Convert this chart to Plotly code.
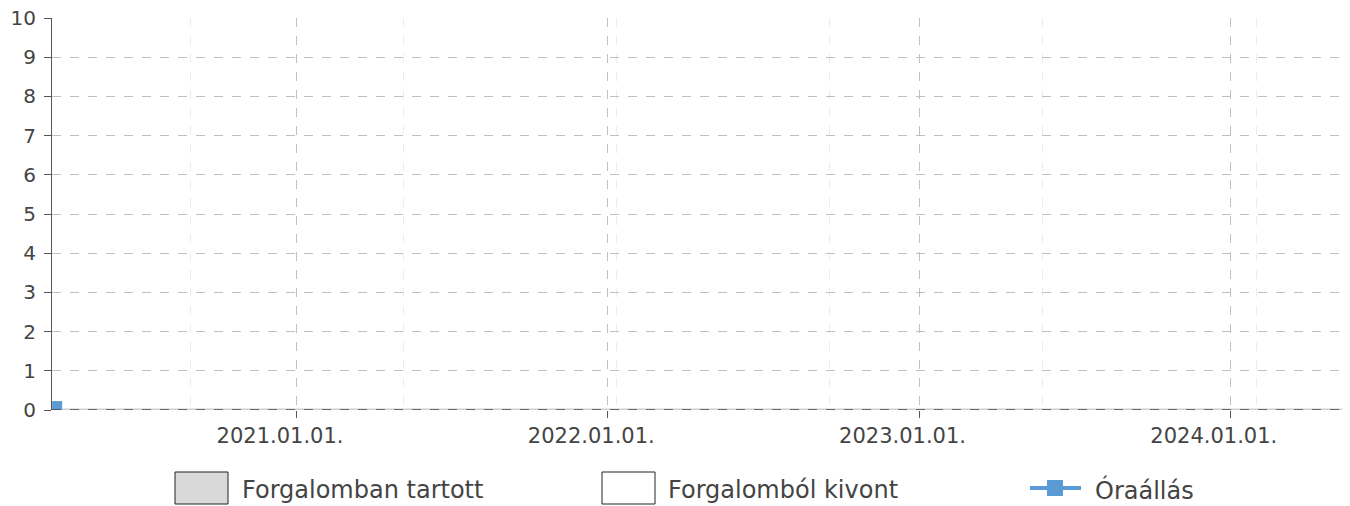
import plotly.graph_objects as go

# ---- data ----
odo_dates = ["2020-03-26"]
odo_values = [0.1]

active_dates = ["2020-03-20", "2024-05-12"]
active_values = [0, 0]

x_tick_vals = ["2021-01-01", "2022-01-01", "2023-01-01", "2024-01-01"]
x_tick_text = ["2021.01.01.", "2022.01.01.", "2023.01.01.", "2024.01.01."]
y_tick_vals = list(range(0, 11))

legend_names = ["Forgalomban tartott", "Forgalomból kivont", "Óraállás"]

# ---- style ----
OFF = 8  # browser default body margin
W, H = 1350 - OFF, 506 - OFF
L, R, T, B = 52 - OFF, 7, 18 - OFF, 96
PW, PH = W - L - R, H - T - B
TXT = "#444444"
BLUE = "#5b9bd5"
FONT = "DejaVu Sans"
MINOR_TICK0 = "2020-08-29"
MINOR_DTICK = 250 * 24 * 3600 * 1000
PAD = "\u00a0" * 5  # shifts x labels left of their tick, as in the reference

def px_x(p):
    # p: page pixel x
    return (p - OFF - L) / PW

def px_y(p):
    # p: page pixel y
    return (H - B - (p - OFF)) / PH

fig = go.Figure()

fig.add_trace(go.Scatter(
    x=active_dates, y=active_values, mode="lines",
    fill="tozeroy", fillcolor="#d9d9d9",
    line=dict(color="#cfcfcf", width=3),
    name=legend_names[0], showlegend=False, hoverinfo="skip",
))

fig.add_trace(go.Scatter(
    x=odo_dates, y=odo_values, mode="lines+markers",
    line=dict(color=BLUE, width=3),
    marker=dict(symbol="square", size=10, color=BLUE),
    name=legend_names[2], showlegend=False, cliponaxis=True,
))

fig.update_xaxes(
    type="date",
    range=[active_dates[0], active_dates[-1]],
    tickmode="array", tickvals=x_tick_vals, ticktext=[t + PAD for t in x_tick_text],
    ticks="outside", ticklen=7, tickcolor="#555555", tickwidth=1,
    showgrid=True, gridcolor="#c0c0c0", griddash="dash", gridwidth=1,
    minor=dict(tick0=MINOR_TICK0, dtick=MINOR_DTICK, showgrid=True,
               gridcolor="#ececec", griddash="dash", gridwidth=1, ticks=""),
    showline=False, zeroline=False,
    tickfont=dict(family=FONT, size=21, color=TXT),
    ticklabeloverflow="allow", automargin=False,
)

fig.update_yaxes(
    range=[0, 10.001], tickmode="array", tickvals=y_tick_vals,
    ticks="outside", ticklen=7, tickcolor="#555555", tickwidth=1,
    showgrid=True, gridcolor="#c0c0c0", griddash="dash", gridwidth=1,
    showline=True, linecolor="#555555", linewidth=1,
    zeroline=False,
    tickfont=dict(family=FONT, size=20, color=TXT),
    ticklabelstandoff=4,
    ticklabeloverflow="allow", automargin=False,
)

shapes = []
# baseline: dark dashes over light gray
shapes.append(dict(type="line", xref="paper", yref="y", x0=0, x1=1, y0=0, y1=0,
                   line=dict(color="#444444", width=1.5, dash="dash"), layer="above"))

# custom legend
LY0, LY1 = 472, 504
shapes.append(dict(type="rect", xref="paper", yref="paper",
                   x0=px_x(175), x1=px_x(228), y0=px_y(LY1), y1=px_y(LY0),
                   fillcolor="#d9d9d9", line=dict(color="#222222", width=1)))
shapes.append(dict(type="rect", xref="paper", yref="paper",
                   x0=px_x(602), x1=px_x(655), y0=px_y(LY1), y1=px_y(LY0),
                   fillcolor="#ffffff", line=dict(color="#222222", width=1)))
shapes.append(dict(type="line", xref="paper", yref="paper",
                   x0=px_x(1030), x1=px_x(1081), y0=px_y(488), y1=px_y(488),
                   line=dict(color=BLUE, width=4)))
shapes.append(dict(type="rect", xref="paper", yref="paper",
                   x0=px_x(1047), x1=px_x(1063), y0=px_y(496), y1=px_y(480),
                   fillcolor=BLUE, line=dict(width=0)))

annotations = []
for xpx, name in zip([240, 666, 1093], legend_names):
    annotations.append(dict(xref="paper", yref="paper", x=px_x(xpx), y=px_y(490),
                            text=name, showarrow=False, xanchor="left", yanchor="middle",
                            font=dict(family=FONT, size=24, color=TXT)))

fig.update_layout(
    width=W, height=H,
    margin=dict(l=L, r=R, t=T, b=B, pad=0, autoexpand=False),
    paper_bgcolor="white", plot_bgcolor="white",
    showlegend=False,
    shapes=shapes, annotations=annotations,
    font=dict(family=FONT, color=TXT),
)

fig.write_html("out.html")
